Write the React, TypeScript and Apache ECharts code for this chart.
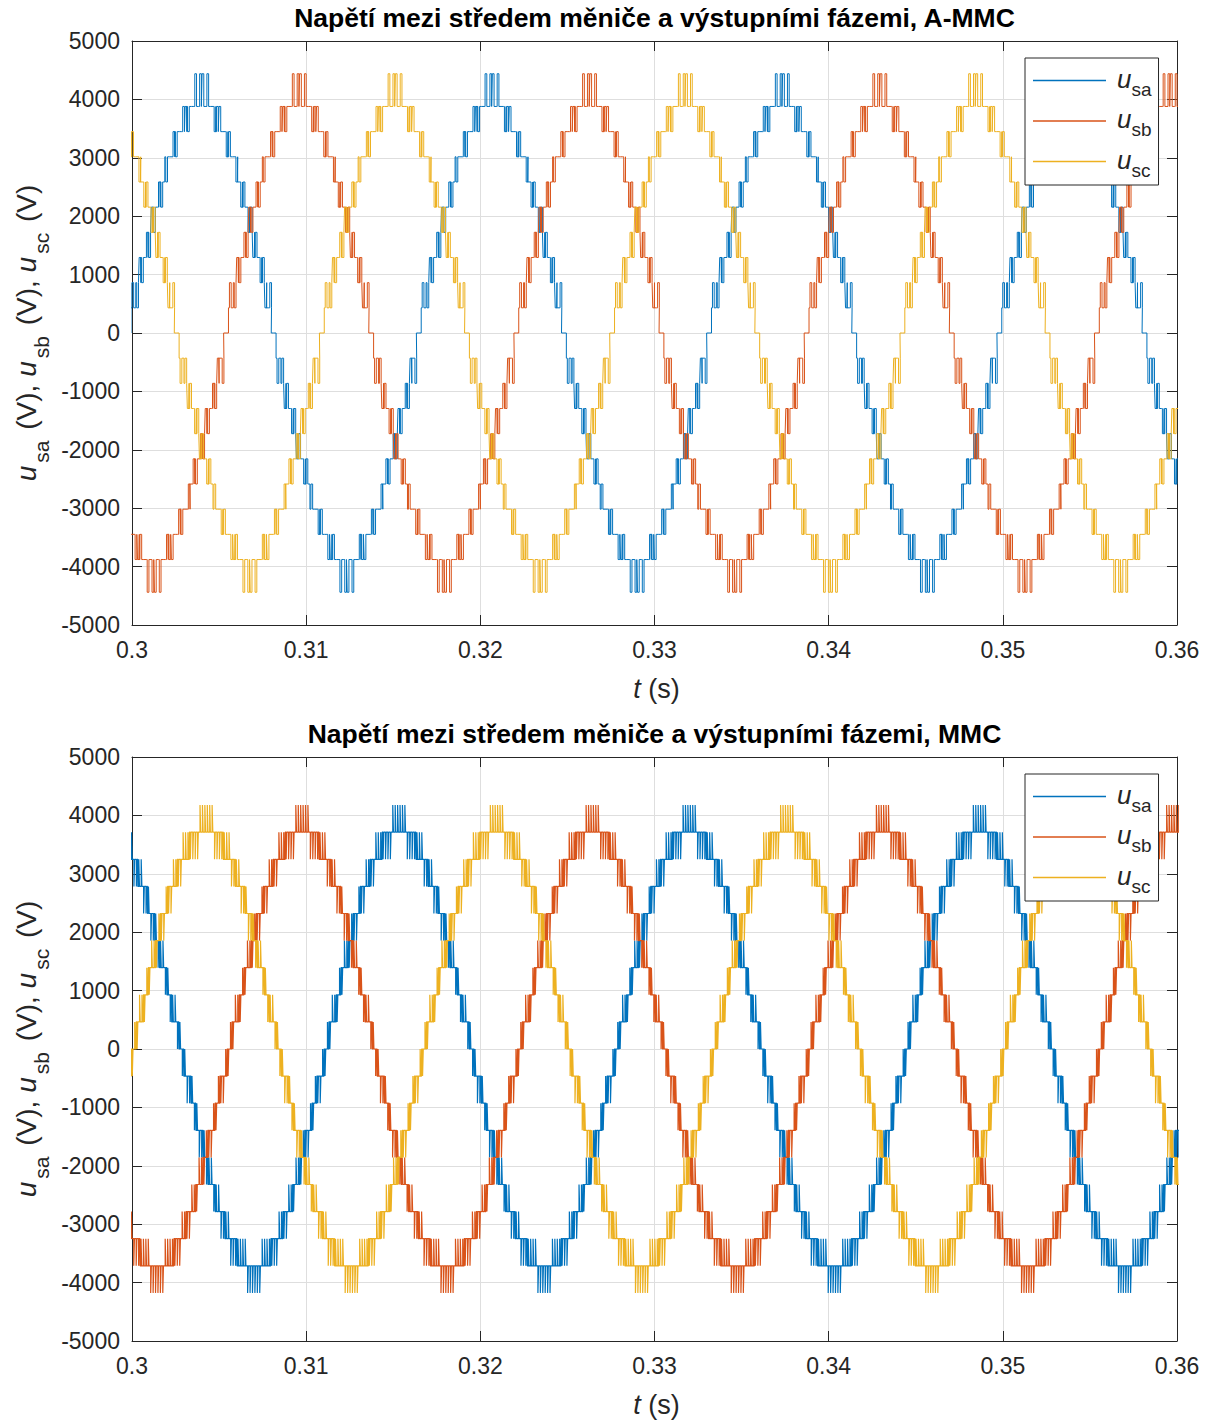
import React, { useEffect, useRef } from "react";
import * as echarts from "echarts";

// ---------- data ----------
const periodS = 1 / 60; // 60 Hz fundamental
const samplesPerHalf = 60; // template resolution (one half-period)

const xMin = 0.3;
const xMax = 0.36;
const xStep = 0.01;
const yMin = -5000;
const yMax = 5000;
const yStep = 1000;

const titles = [
  "Napětí mezi středem měniče a výstupními fázemi, A-MMC",
  "Napětí mezi středem měniče a výstupními fázemi, MMC",
];
const phaseNames = ["sa", "sb", "sc"];
const phaseColors = ["#0072BD", "#D95319", "#EDB120"];

// A-MMC: staircase level index over the rising quarter-period, and switching pulses (in steps)
const ammcStepV = 431;
const ammcRiseLevels = [0, 1, 1, 2, 2, 3, 3, 3, 4, 4, 5, 5, 5, 6, 6, 7, 7, 7, 7, 8, 8, 8, 8, 8, 9, 9, 9, 9, 9, 9];
const ammcRiseSpikes = [0, 1, 0, -1, 1, -1, 0, 1, -1, 1, -1, 0, 1, -1, 0, -1, 0, 0, 1, -1, 0, 0, 1, 1, -1, 0, 0, 1.3, 0, 1.3];
const ammcZeroS = [0.2998, 0.3054, 0.3109]; // rising zero crossings of u_sa, u_sb, u_sc

// MMC
const mmcStepV = 464;
const mmcRiseLevels = [0, 1, 1, 1, 2, 2, 3, 3, 3, 4, 4, 5, 5, 5, 6, 6, 6, 6, 7, 7, 7, 7, 7, 8, 8, 8, 8, 8, 8, 8];
const mmcRiseSpikes = [1, -1, 1, 1, -1, 1, -1, 1, 1, -1, 1, -1, -1, 1, -1, -1, 1, 1, -1, -1, 1, 1, 1, -1, -1, -1, -1, 1, 1, 1];
const mmcZeroS = [0.2945, 0.3056, 0.3001];

// ---------- build ----------
const FONT = "'Liberation Sans', Arial, Helvetica, sans-serif";
const TXT = "#262626";

function buildPhase(
  zero: number,
  stepV: number,
  levels: number[],
  spikes: number[],
  pulseW: number
): number[][] {
  const n = samplesPerHalf * 2;
  const dt = periodS / n;
  const pts: number[][] = [];
  const kStart = Math.floor((xMin - zero) / dt) - 1;
  const kEnd = Math.ceil((xMax - zero) / dt) + 1;
  for (let k = kStart; k <= kEnd; k++) {
    const j = ((k % n) + n) % n;
    const sign = j < samplesPerHalf ? 1 : -1;
    const h = j % samplesPerHalf;
    const q = h < samplesPerHalf / 2 ? h : samplesPerHalf - 1 - h;
    const L = sign * levels[q] * stepV;
    const S = sign * spikes[q] * stepV;
    const t0 = zero + k * dt;
    pts.push([t0, L]);
    if (S !== 0) {
      const tp = t0 + dt * 0.4;
      pts.push([tp, L], [tp, L + S], [tp + pulseW, L + S], [tp + pulseW, L]);
    }
    pts.push([t0 + dt, L]);
  }
  return pts;
}

const plots = [
  { top: 41, zeros: ammcZeroS, stepV: ammcStepV, levels: ammcRiseLevels, spikes: ammcRiseSpikes, pulseW: 0.0001, lw: 1 },
  { top: 757, zeros: mmcZeroS, stepV: mmcStepV, levels: mmcRiseLevels, spikes: mmcRiseSpikes, pulseW: 0.00004, lw: 1.2 },
];

const GRID_LEFT = 132;
const GRID_W = 1045;
const GRID_H = 584;

const richLbl: any = {
  i: { fontStyle: "italic", fontSize: 28, lineHeight: 32, verticalAlign: "top", fontFamily: FONT, fill: TXT, color: TXT },
  n: { fontSize: 28, lineHeight: 32, verticalAlign: "top", fontFamily: FONT, fill: TXT, color: TXT },
  s: { fontSize: 21, lineHeight: 21, padding: [19, 3, 0, 3], verticalAlign: "top", fontFamily: FONT, fill: TXT, color: TXT },
};
const richX: any = {
  i: { fontStyle: "italic", fontSize: 27, lineHeight: 32, fontFamily: FONT, fill: TXT, color: TXT },
  n: { fontSize: 27, lineHeight: 32, fontFamily: FONT, fill: TXT, color: TXT },
};

function buildOption() {
  const grid: any[] = [];
  const xAxis: any[] = [];
  const yAxis: any[] = [];
  const series: any[] = [];
  const title: any[] = [];
  const legend: any[] = [];
  const graphic: any[] = [];

  plots.forEach((p, pi) => {
    grid.push({ left: GRID_LEFT, top: p.top, width: GRID_W, height: GRID_H, containLabel: false });
    const axLine = { show: true, onZero: false, lineStyle: { color: TXT, width: 1 } };
    const tick = { show: true, inside: true, length: 10, lineStyle: { color: TXT } };
    xAxis.push({
      type: "value",
      gridIndex: pi,
      min: xMin,
      max: xMax,
      interval: xStep,
      position: "bottom",
      axisLine: axLine,
      axisTick: tick,
      axisLabel: {
        show: true,
        margin: 13,
        fontSize: 23,
        fontFamily: FONT,
        color: TXT,
        formatter: (v: number) => String(parseFloat(v.toFixed(3))),
      },
      splitLine: { show: true, lineStyle: { color: "#dedede", width: 1 } },
    });
    xAxis.push({
      type: "value",
      gridIndex: pi,
      min: xMin,
      max: xMax,
      interval: xStep,
      position: "top",
      axisLine: axLine,
      axisTick: tick,
      axisLabel: { show: false },
      splitLine: { show: false },
    });
    yAxis.push({
      type: "value",
      gridIndex: pi,
      min: yMin,
      max: yMax,
      interval: yStep,
      position: "left",
      axisLine: axLine,
      axisTick: tick,
      axisLabel: {
        show: true,
        margin: 12,
        fontSize: 23,
        fontFamily: FONT,
        color: TXT,
        formatter: (v: number) => String(v),
      },
      splitLine: { show: true, lineStyle: { color: "#dedede", width: 1 } },
    });
    yAxis.push({
      type: "value",
      gridIndex: pi,
      min: yMin,
      max: yMax,
      interval: yStep,
      position: "right",
      axisLine: axLine,
      axisTick: tick,
      axisLabel: { show: false },
      splitLine: { show: false },
    });

    phaseNames.forEach((nm, ph) => {
      series.push({
        type: "line",
        name: nm,
        xAxisIndex: pi * 2,
        yAxisIndex: pi * 2,
        data: buildPhase(p.zeros[ph], p.stepV, p.levels, p.spikes, p.pulseW),
        showSymbol: false,
        symbol: "none",
        color: phaseColors[ph],
        lineStyle: { width: p.lw, color: phaseColors[ph] },
        clip: true,
        z: 2,
      });
    });

    title.push({
      text: titles[pi],
      left: GRID_LEFT + GRID_W / 2,
      textAlign: "center",
      top: p.top - 37,
      padding: 0,
      textStyle: { fontSize: 26.5, fontWeight: "bold", fontFamily: FONT, color: "#000" },
    });

    legend.push({
      show: true,
      orient: "vertical",
      left: 1025,
      top: p.top + 17,
      z: 10,
      data: phaseNames,
      icon: "rect",
      itemWidth: 73,
      itemHeight: 1.5,
      itemGap: 7.5,
      padding: [7.5, 7, 5.5, 8],
      backgroundColor: "#ffffff",
      borderColor: TXT,
      borderWidth: 1,
      borderRadius: 0,
      selectedMode: false,
      formatter: (name: string) => `{u|u}{s|${name}}`,
      textStyle: {
        color: TXT,
        fontFamily: FONT,
        rich: {
          u: { fontStyle: "italic", fontSize: 26, lineHeight: 30, verticalAlign: "top", padding: [0, 0, 0, 6], color: TXT, fontFamily: FONT },
          s: { fontSize: 19, lineHeight: 19, padding: [14, 0, 0, 0], verticalAlign: "top", color: TXT, fontFamily: FONT },
        },
      },
    });

    graphic.push({
      type: "text",
      x: 28,
      y: p.top + GRID_H / 2,
      rotation: Math.PI / 2,
      z: 10,
      style: {
        text: "{i|u}{s|sa}{n| (V), }{i|u}{s|sb}{n| (V), }{i|u}{s|sc}{n| (V)}",
        rich: richLbl,
        align: "center",
        verticalAlign: "middle",
        fill: TXT,
      },
    });
    graphic.push({
      type: "text",
      x: GRID_LEFT + GRID_W / 2 + 2,
      y: p.top + GRID_H + 64,
      z: 10,
      style: {
        text: "{i|t}{n| (s)}",
        rich: richX,
        align: "center",
        verticalAlign: "middle",
        fill: TXT,
      },
    });
  });

  return {
    animation: false,
    backgroundColor: "#ffffff",
    grid,
    xAxis,
    yAxis,
    series,
    title,
    legend,
    graphic,
  };
}

export default function App() {
  const ref = useRef<HTMLDivElement>(null);
  useEffect(() => {
    if (!ref.current) return;
    const chart = echarts.init(ref.current, undefined, { renderer: "svg" });
    chart.setOption(buildOption() as any);
    return () => chart.dispose();
  }, []);
  return (
    <div
      ref={ref}
      style={{ position: "absolute", left: 0, top: 0, width: 1208, height: 1422, background: "#fff" }}
    />
  );
}
